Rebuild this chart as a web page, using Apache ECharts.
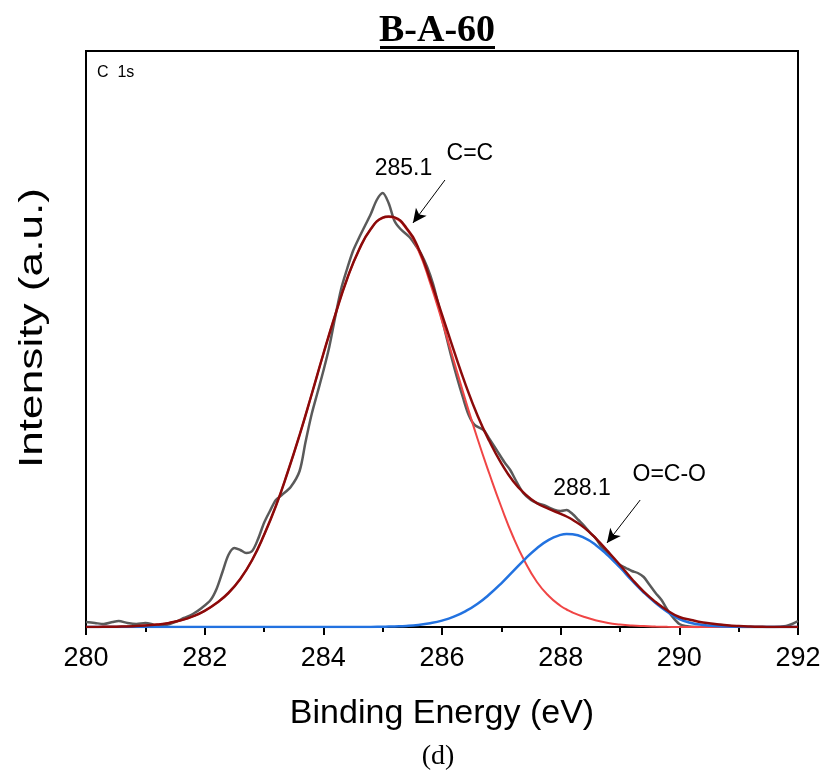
<!DOCTYPE html>
<html>
<head>
<meta charset="utf-8">
<script src="https://cdn.jsdelivr.net/npm/echarts@6/dist/echarts.min.js"></script>
<style>html,body{margin:0;padding:0;background:#fff;}#chart{width:824px;height:778px;}</style>
</head>
<body>
<div id="chart"></div>
<script>
// Raw spectrum (binding energy, intensity)
var rawEnergy = [280.0,280.15,280.3,280.45,280.55,280.7,280.85,281.0,281.1,281.2,281.35,281.5,281.65,281.8,281.95,282.1,282.2,282.3,282.4,282.5,282.6,282.7,282.8,282.9,283.0,283.1,283.2,283.3,283.45,283.6,283.7,283.8,283.9,284.0,284.1,284.2,284.3,284.4,284.5,284.6,284.7,284.8,284.9,285.0,285.1,285.2,285.3,285.45,285.55,285.65,285.75,285.85,285.95,286.05,286.15,286.25,286.35,286.45,286.55,286.7,286.8,286.92,287.05,287.15,287.25,287.37,287.5,287.6,287.75,287.9,288.0,288.1,288.2,288.3,288.4,288.5,288.6,288.7,288.8,288.9,289.0,289.1,289.2,289.3,289.4,289.5,289.6,289.7,289.8,289.9,290.0,290.1,290.3,290.5,290.7,290.85,291.0,291.3,291.6,291.8,291.9,292.0];
var rawIntensity = [5,4,3,5,6,4,3,4,3,1,2,5,9,13,19,27,38,55,72,79,77,74,76,88,104,116,127,132,140,156,185,212,234,256,280,310,338,358,376,389,401,413,427,434,424,406,398,390,382,373,360,343,320,296,272,250,230,212,202,197,188,177,165,157,146,134,127,124,121,117,116,117,113,107,101,94,88,79,73,66,62,59,56,54,50,42,34,27,17,9,3,1,0,1,2,1,0,0,0,1,3,6];

// Fitted components on a common energy grid
var fitEnergy = [280.0,280.2,280.4,280.6,280.8,281.0,281.2,281.4,281.6,281.8,282.0,282.2,282.4,282.6,282.8,283.0,283.2,283.4,283.6,283.8,284.0,284.2,284.4,284.6,284.8,285.0,285.1,285.2,285.4,285.6,285.8,286.0,286.2,286.4,286.6,286.8,287.0,287.2,287.4,287.6,287.8,288.0,288.1,288.2,288.4,288.6,288.8,289.0,289.2,289.4,289.6,289.8,290.0,290.2,290.4,290.6,290.8,291.0,291.2,291.4,291.6,291.8,292.0];
var peakCC = [0,0.1,0.2,0.5,0.8,1.4,2.5,4.1,6.7,10.6,16.2,24,34,48,67,92,121,155,192,232,273,312,348,377,398,409,410,409,398,377,344,306,266,226,188,153,120,90,65,45,31,21,17.5,14.5,10,6.5,4,2.5,1.5,0.9,0.5,0.2,0,0,0,0,0,0,0,0,0,0,0];
var peakOCO = [0,0,0,0,0,0,0,0,0,0,0,0,0,0,0,0,0,0,0,0,0,0,0,0,0,0.3,0.4,0.6,1.1,2.1,3.8,6.4,10.3,15.9,23.3,32.7,43.7,55.8,67.9,78.8,87.2,92.1,93,92.7,89.1,81.6,71.3,59.5,46.5,34.5,24,15,8,4,2,1,0.5,0.2,0,0,0,0,0];
var envelope = [0,0.1,0.2,0.5,0.8,1.4,2.5,4.1,6.7,10.6,16.2,24,34,48,67,92,121,155,192,232,273,312,348,377,398,409.3,410.4,409.6,399.1,379.1,347.8,312.4,276.3,241.9,211.3,185.7,163.7,145.8,132.9,123.8,118.2,113.1,110.5,107.2,99.1,88.1,75.3,62,48,35.4,25,16.5,10,7,4.5,3,1.8,1,0.5,0.2,0,0,0];

// Annotations
var peakLabels = ['285.1', 'C=C', '288.1', 'O=C-O'];
var peakLabelPos = [[285.35, 458], [286.47, 473], [288.36, 138], [289.83, 152]];
var arrows = [[[286.05, 447], [285.51, 404]], [[289.34, 127], [288.78, 84]]];

function pairs(xs, ys) { return xs.map(function (x, i) { return [x, ys[i]]; }); }

var chart = echarts.init(document.getElementById('chart'), null, {renderer: 'canvas'});
var FONT = 'Liberation Sans';
chart.setOption({
  animation: false,
  backgroundColor: '#fff',
  graphic: [
    {type: 'text', x: 437, y: 31, style: {text: 'B-A-60', font: 'bold 38px "Liberation Serif"', fill: '#000', align: 'center', verticalAlign: 'middle'}},
    {type: 'rect', shape: {x: 380, y: 46, width: 115, height: 3}, style: {fill: '#000'}},
    {type: 'text', x: 97, y: 73, style: {text: 'C  1s', font: '16px "Liberation Sans"', fill: '#000', verticalAlign: 'middle'}},
    {type: 'text', x: 33, y: 328, rotation: Math.PI / 2, scaleX: 1.3,
     style: {text: 'Intensity (a.u.)', font: '34px "Liberation Sans"', fill: '#000', align: 'center', verticalAlign: 'middle'}},
    {type: 'text', x: 438, y: 757, style: {text: '(d)', font: '28px "Liberation Serif"', fill: '#000', align: 'center', verticalAlign: 'middle'}}
  ],
  grid: {left: 86, right: 26, top: 51, bottom: 151, show: true, borderColor: '#000', borderWidth: 2, containLabel: false},
  xAxis: {
    type: 'value', min: 280, max: 292, interval: 2,
    name: 'Binding Energy (eV)', nameLocation: 'middle', nameGap: 70,
    nameTextStyle: {fontFamily: FONT, fontSize: 34, color: '#000'},
    axisLine: {show: true, lineStyle: {color: '#000', width: 2}},
    axisTick: {show: true, inside: false, length: 8, lineStyle: {color: '#000', width: 2}},
    minorTick: {show: true, splitNumber: 2, length: 5, lineStyle: {color: '#000', width: 2}},
    axisLabel: {fontFamily: FONT, fontSize: 27, color: '#000', margin: 18},
    splitLine: {show: false}
  },
  yAxis: {
    type: 'value', min: 0, max: 576,
    axisLine: {show: true, lineStyle: {color: '#000', width: 2}},
    axisTick: {show: false}, axisLabel: {show: false}, splitLine: {show: false}
  },
  series: [
    {type: 'line', name: 'raw', data: pairs(rawEnergy, rawIntensity), showSymbol: false, smooth: 0.3,
     lineStyle: {color: '#5a5a5a', width: 2.5}, z: 2},
    {type: 'line', name: 'C=C', data: pairs(fitEnergy, peakCC), showSymbol: false, smooth: true,
     lineStyle: {color: '#f04545', width: 2}, z: 3},
    {type: 'line', name: 'O=C-O', data: pairs(fitEnergy, peakOCO), showSymbol: false, smooth: true,
     lineStyle: {color: '#2272e0', width: 2.5}, z: 3},
    {type: 'line', name: 'envelope', data: pairs(fitEnergy, envelope), showSymbol: false, smooth: true,
     lineStyle: {color: '#8b0a0a', width: 2.5}, z: 4,
     markLine: {
       silent: true, symbol: ['none', 'arrow'], symbolSize: [10, 14],
       lineStyle: {color: '#000', width: 1, type: 'solid'}, label: {show: false},
       data: arrows.map(function (a) { return [{coord: a[0]}, {coord: a[1]}]; })
     }},
    {type: 'scatter', name: 'labels', symbolSize: 0, z: 5, itemStyle: {opacity: 1},
     data: peakLabelPos.map(function (p, i) { return {value: p, name: peakLabels[i]}; }),
     label: {show: true, position: 'inside', formatter: function (p) { return p.name; },
             fontFamily: FONT, fontSize: 23, color: '#000', opacity: 1}}
  ]
});
</script>
</body>
</html>
